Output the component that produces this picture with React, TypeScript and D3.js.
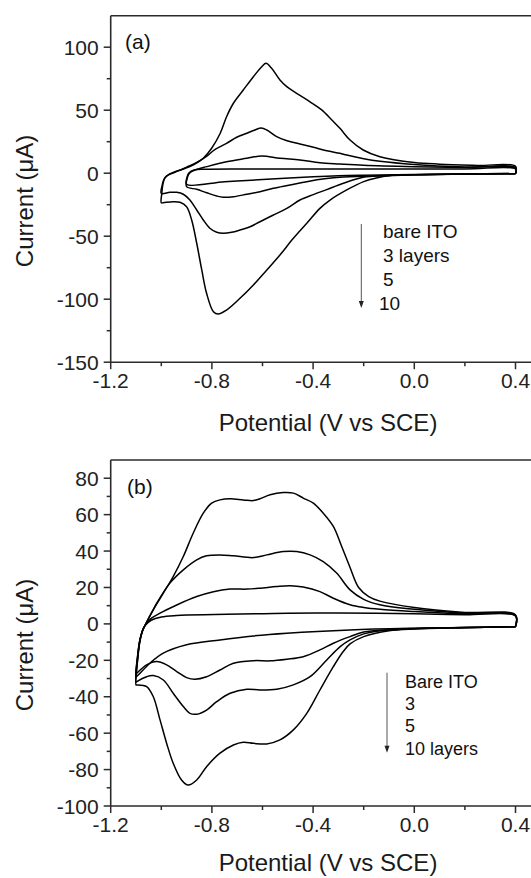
import * as d3 from "d3";

type Pt = [number, number];

const W = 531;
const H = 878;
const FONT = "'Liberation Sans', Arial, Helvetica, sans-serif";

// axis ticks
const xMajor = [-1.2, -0.8, -0.4, 0.0, 0.4];
const xMinor = [-1.0, -0.6, -0.2, 0.2];
const aYMajor = [-150, -100, -50, 0, 50, 100];
const aYMinor = [-125, -75, -25, 25, 75];
const bYMajor = [-100, -80, -60, -40, -20, 0, 20, 40, 60, 80];
const bYMinor = [-90, -70, -50, -30, -10, 10, 30, 50, 70];

// legend labels
const aLegend = ["bare ITO", "3 layers", "5", "10"];
const bLegend = ["Bare ITO", "3", "5", "10 layers"];

// panel (a): [potential (V vs SCE), current (uA)]
// cathodic sweeps go 0.4 -> negative limit, anodic sweeps come back
const aBareCathodic: Pt[] = [[0.4, -0.3], [0.2, -0.6], [0.0, -1.1], [-0.2, -1.6], [-0.3, -2.0], [-0.4, -2.8], [-0.6, -5.0], [-0.75, -6.8], [-0.9, -8.8]];
const aBareAnodic: Pt[] = [[-0.9, -8.8], [-0.898, -3], [-0.89, 0.4], [-0.87, 2.5], [-0.83, 3.2], [-0.6, 3.4], [-0.2, 3.4], [0.2, 3.4], [0.4, 3.3]];

const a3Cathodic: Pt[] = [[0.4, -0.3], [0.2, -0.6], [0.0, -1.2], [-0.15, -2.2], [-0.294, -3.3], [-0.346, -4.3], [-0.425, -6.7], [-0.491, -9.4], [-0.557, -12], [-0.61, -14.7], [-0.662, -16.7], [-0.715, -18.7], [-0.755, -19.1], [-0.781, -18.1], [-0.821, -15.5], [-0.86, -12.8], [-0.9, -10.7]];
const a3Anodic: Pt[] = [[-0.9, -10.7], [-0.897, -3.5], [-0.888, 0.2], [-0.867, 2.5], [-0.82, 5.2], [-0.742, 9.1], [-0.662, 11.8], [-0.603, 13.7], [-0.531, 11.8], [-0.452, 10.5], [-0.373, 8.3], [-0.294, 7.3], [-0.2, 6.3], [0.0, 5.2], [0.2, 4.5], [0.4, 4.0]];

const a5Cathodic: Pt[] = [[0.4, -0.4], [0.2, -0.7], [0.0, -1.3], [-0.12, -1.8], [-0.202, -3.2], [-0.28, -8], [-0.346, -13], [-0.399, -17], [-0.452, -21.3], [-0.504, -27.9], [-0.557, -33.2], [-0.61, -38.5], [-0.649, -42.5], [-0.689, -45.1], [-0.722, -46.9], [-0.755, -47.7], [-0.781, -46.9], [-0.808, -43.7], [-0.834, -37.1], [-0.86, -29.2], [-0.887, -21.3], [-0.913, -16.7], [-0.939, -15.2], [-0.966, -15.2], [-1.0, -16]];
const a5Anodic: Pt[] = [[-1.0, -16], [-0.997, -10], [-0.99, -5], [-0.98, -2.5], [-0.96, -0.3], [-0.93, 2], [-0.9, 4.8], [-0.86, 8.5], [-0.82, 13.5], [-0.79, 18.5], [-0.742, 23.7], [-0.702, 28.5], [-0.662, 31.7], [-0.63, 34.3], [-0.605, 35.8], [-0.583, 34.3], [-0.544, 29], [-0.503, 25.8], [-0.452, 23.2], [-0.399, 20.6], [-0.346, 17.8], [-0.294, 15.8], [-0.267, 14.4], [-0.2, 11.5], [-0.136, 9.5], [0.0, 7.0], [0.2, 5.0], [0.4, 4.2]];

const a10Cathodic: Pt[] = [[0.4, -0.4], [0.2, -0.7], [0.0, -1.2], [-0.1, -2.0], [-0.15, -3.8], [-0.2, -6.7], [-0.267, -13.3], [-0.333, -21.3], [-0.373, -27.9], [-0.425, -39.8], [-0.478, -51.7], [-0.531, -64.9], [-0.583, -76.8], [-0.636, -88.7], [-0.689, -99.3], [-0.742, -108.6], [-0.775, -111.7], [-0.794, -109.9], [-0.821, -95.3], [-0.84, -76.8], [-0.86, -55.6], [-0.88, -37.1], [-0.9, -26.6], [-0.926, -23.1], [-0.953, -22.6], [-0.992, -23.4], [-1.0, -23.5]];
const a10Anodic: Pt[] = [[-1.0, -23.5], [-0.998, -16], [-0.993, -8], [-0.985, -3.5], [-0.97, -1], [-0.953, 0.5], [-0.926, 2.5], [-0.887, 5.2], [-0.85, 9.3], [-0.834, 11.8], [-0.801, 19.8], [-0.767, 31.7], [-0.742, 44.8], [-0.715, 55.5], [-0.676, 66], [-0.636, 76.6], [-0.603, 84.5], [-0.586, 87.2], [-0.564, 83.3], [-0.531, 74], [-0.504, 68.7], [-0.465, 63.4], [-0.412, 56.7], [-0.366, 50.2], [-0.326, 42.2], [-0.294, 35.6], [-0.254, 26.3], [-0.202, 18.4], [-0.136, 13.1], [0.0, 8.5], [0.1, 7.2], [0.25, 6.2], [0.4, 5.5]];

// panel (b)
const bBareCathodic: Pt[] = [[0.4, -1.5], [0.2, -2.0], [0.0, -2.4], [-0.254, -3.3], [-0.504, -5.1], [-0.636, -6.6], [-0.768, -8.8], [-0.9, -11.5], [-0.992, -16.1], [-1.045, -21.6], [-1.091, -28], [-1.1, -29]];
const bBareAnodic: Pt[] = [[-1.1, -29], [-1.095, -20], [-1.085, -9], [-1.075, -4], [-1.065, -1], [-1.04, 2], [-1.0, 3.8], [-0.94, 4.6], [-0.5, 5.8], [-0.3, 6.0], [0.0, 5.6], [0.2, 5.0], [0.4, 4.4]];

const b3Cathodic: Pt[] = [[0.4, -1.5], [0.2, -2.0], [0.0, -2.5], [-0.1, -3.2], [-0.2, -4.5], [-0.254, -7], [-0.32, -10.6], [-0.373, -14.3], [-0.439, -18], [-0.504, -19.4], [-0.57, -20.3], [-0.636, -20.2], [-0.715, -21.6], [-0.768, -25.3], [-0.821, -29], [-0.867, -30.4], [-0.9, -29.5], [-0.939, -26.2], [-0.979, -22.5], [-1.018, -20.7], [-1.058, -22.5], [-1.097, -27.1], [-1.1, -27.5]];
const b3Anodic: Pt[] = [[-1.1, -27.5], [-1.095, -19], [-1.085, -9], [-1.075, -4], [-1.065, -1], [-1.04, 3], [-1.005, 5.9], [-0.939, 10.4], [-0.86, 15], [-0.794, 17.7], [-0.728, 19.1], [-0.662, 19.1], [-0.61, 19.6], [-0.544, 20.5], [-0.491, 20.9], [-0.439, 20.2], [-0.373, 17.7], [-0.32, 14.1], [-0.254, 10.5], [-0.2, 9.0], [-0.136, 8.0], [0.0, 6.8], [0.2, 5.5], [0.4, 4.5]];

const b5Cathodic: Pt[] = [[0.4, -1.5], [0.2, -2.0], [0.0, -2.6], [-0.15, -4], [-0.2, -5.5], [-0.254, -8.8], [-0.293, -12.5], [-0.346, -19.8], [-0.412, -29], [-0.478, -33.5], [-0.544, -35.9], [-0.61, -36.3], [-0.662, -35.9], [-0.728, -38.1], [-0.781, -42.7], [-0.821, -47.3], [-0.86, -49.6], [-0.887, -49.1], [-0.913, -45.4], [-0.953, -38.1], [-0.992, -30.8], [-1.032, -28.4], [-1.058, -29], [-1.097, -31.7], [-1.1, -32]];
const b5Anodic: Pt[] = [[-1.1, -32], [-1.095, -21], [-1.085, -9.5], [-1.075, -4], [-1.065, -1], [-1.035, 7], [-1.018, 11.4], [-0.966, 22.4], [-0.913, 29.7], [-0.86, 35.2], [-0.821, 37.4], [-0.768, 37.9], [-0.715, 37.4], [-0.636, 36.4], [-0.583, 37.9], [-0.518, 39.7], [-0.465, 39.7], [-0.412, 37.9], [-0.36, 34.2], [-0.307, 27.9], [-0.254, 18.7], [-0.2, 13.5], [-0.136, 10.5], [0.0, 8.0], [0.2, 5.8], [0.4, 4.6]];

const b10Cathodic: Pt[] = [[0.4, -1.5], [0.2, -2.1], [0.0, -2.8], [-0.1, -3.8], [-0.2, -7], [-0.254, -11], [-0.281, -15.2], [-0.32, -23.5], [-0.373, -36.3], [-0.425, -49.1], [-0.478, -58.2], [-0.531, -63.7], [-0.583, -65.9], [-0.636, -65.6], [-0.676, -65], [-0.715, -66.5], [-0.768, -71], [-0.821, -78.4], [-0.86, -85.7], [-0.894, -88.5], [-0.92, -85.7], [-0.953, -76.5], [-0.979, -65.5], [-1.005, -52.7], [-1.032, -39.9], [-1.058, -34.4], [-1.097, -33.5], [-1.1, -33.5]];
const b10Anodic: Pt[] = [[-1.1, -33.5], [-1.095, -22], [-1.085, -10], [-1.075, -4], [-1.065, -1], [-1.032, 7.7], [-0.992, 16.9], [-0.953, 26], [-0.913, 37], [-0.874, 49.8], [-0.834, 60.8], [-0.801, 66.3], [-0.768, 68.1], [-0.728, 68.7], [-0.676, 68.1], [-0.636, 67.7], [-0.61, 68.7], [-0.57, 70.9], [-0.518, 72.1], [-0.478, 71.8], [-0.439, 69.1], [-0.399, 66.3], [-0.36, 60.8], [-0.32, 53.5], [-0.287, 42.5], [-0.254, 31], [-0.22, 20], [-0.18, 15], [-0.136, 12.5], [0.0, 9.0], [0.2, 6.3], [0.4, 4.9]];

// one closed voltammogram: cathodic sweep, anodic sweep, back to start
const loop = (cat: Pt[], an: Pt[]): Pt[] => [...cat, ...an.slice(1), cat[0]];

const aCurves = [
  loop(aBareCathodic, aBareAnodic),
  loop(a3Cathodic, a3Anodic),
  loop(a5Cathodic, a5Anodic),
  loop(a10Cathodic, a10Anodic),
];
const bCurves = [
  loop(bBareCathodic, bBareAnodic),
  loop(b3Cathodic, b3Anodic),
  loop(b5Cathodic, b5Anodic),
  loop(b10Cathodic, b10Anodic),
];

const x = d3.scaleLinear().domain([-1.2, 0.5]).range([110.7, 540.8]);
const AXIS = "#2b2b2b";

type PanelProps = {
  yDomain: [number, number];
  yRange: [number, number];
  yMajor: number[];
  yMinor: number[];
  curves: Pt[][];
  tag: string;
  tagPos: [number, number];
  legend: string[];
  legendPos: [number, number];
  legendStep: number;
  legendSize: number;
  legendShift?: number[];
  arrow: [number, number, number];
  tickBase: number;
  titleBase: number;
};

const Panel = (p: PanelProps) => {
  const y = d3.scaleLinear().domain(p.yDomain).range(p.yRange);
  const top = p.yRange[1];
  const bottom = p.yRange[0];
  const left = x(-1.2);
  const line = d3
    .line<Pt>()
    .x((d) => x(d[0]))
    .y((d) => y(d[1]))
    .curve(d3.curveCatmullRom.alpha(0.5));
  const [ax, a0, a1] = p.arrow;
  const yMid = (top + bottom) / 2;

  return (
    <g>
      {/* frame */}
      <line x1={left} x2={W} y1={top} y2={top} stroke={AXIS} strokeWidth={1.6} />
      <line x1={left} x2={W} y1={bottom} y2={bottom} stroke={AXIS} strokeWidth={1.6} />
      <line x1={left} x2={left} y1={top} y2={bottom} stroke={AXIS} strokeWidth={1.6} />

      {p.yMajor.map((v) => (
        <g key={"ym" + v}>
          <line x1={left - 7} x2={left} y1={y(v)} y2={y(v)} stroke={AXIS} strokeWidth={1.5} />
          <text x={left - 12} y={y(v)} dy="0.36em" textAnchor="end" fontSize={21} fill="#222">
            {String(v)}
          </text>
        </g>
      ))}
      {p.yMinor.map((v) => (
        <line key={"yn" + v} x1={left - 4} x2={left} y1={y(v)} y2={y(v)} stroke={AXIS} strokeWidth={1.5} />
      ))}
      {xMajor.map((v) => (
        <g key={"xm" + v}>
          <line x1={x(v)} x2={x(v)} y1={bottom} y2={bottom + 7} stroke={AXIS} strokeWidth={1.5} />
          <text x={x(v)} y={p.tickBase} textAnchor="middle" fontSize={21} fill="#222">
            {v.toFixed(1)}
          </text>
        </g>
      ))}
      {xMinor.map((v) => (
        <line key={"xn" + v} x1={x(v)} x2={x(v)} y1={bottom} y2={bottom + 4} stroke={AXIS} strokeWidth={1.5} />
      ))}

      {/* axis titles */}
      <text x={328} y={p.titleBase} textAnchor="middle" fontSize={24} fill="#1a1a1a">
        Potential (V vs SCE)
      </text>
      <text
        transform={`translate(33,${yMid + 12}) rotate(-90)`}
        textAnchor="middle"
        fontSize={24}
        fill="#1a1a1a"
      >
        Current (μA)
      </text>

      {/* curves */}
      {p.curves.map((c, i) => (
        <path key={i} d={line(c) ?? ""} fill="none" stroke="#000" strokeWidth={1.5} strokeLinejoin="round" />
      ))}

      <text x={p.tagPos[0]} y={p.tagPos[1]} fontSize={21} fill="#111">
        {p.tag}
      </text>

      {/* legend arrow + labels */}
      <line x1={ax} x2={ax} y1={a0} y2={a1 - 5} stroke="#555" strokeWidth={1} />
      <path d={`M${ax - 2.5},${a1 - 7} L${ax + 2.5},${a1 - 7} L${ax},${a1} Z`} fill="#222" />
      {p.legend.map((s, i) => (
        <text
          key={s}
          x={p.legendPos[0] + (p.legendShift ? p.legendShift[i] : 0)}
          y={p.legendPos[1] + i * p.legendStep}
          fontSize={p.legendSize}
          fill="#111"
        >
          {s}
        </text>
      ))}
    </g>
  );
};

export default function App() {
  return (
    <svg
      width={W}
      height={H}
      viewBox={`0 0 ${W} ${H}`}
      style={{ position: "absolute", left: 0, top: 0, background: "#fff", fontFamily: FONT }}
    >
      <rect width={W} height={H} fill="#fff" />
      <Panel
        yDomain={[-150, 125]}
        yRange={[362.2, 15.7]}
        yMajor={aYMajor}
        yMinor={aYMinor}
        curves={aCurves}
        tag="(a)"
        tagPos={[125, 49]}
        legend={aLegend}
        legendPos={[383, 238]}
        legendStep={24}
        legendSize={19}
        legendShift={[0, 0, 0, -4]}
        arrow={[361.3, 224, 308]}
        tickBase={388}
        titleBase={431}
      />
      <Panel
        yDomain={[-100, 90]}
        yRange={[806, 460]}
        yMajor={bYMajor}
        yMinor={bYMinor}
        curves={bCurves}
        tag="(b)"
        tagPos={[127, 494]}
        legend={bLegend}
        legendPos={[405, 688]}
        legendStep={22.2}
        legendSize={18}
        arrow={[387, 672.7, 752.7]}
        tickBase={831.5}
        titleBase={871}
      />
    </svg>
  );
}
